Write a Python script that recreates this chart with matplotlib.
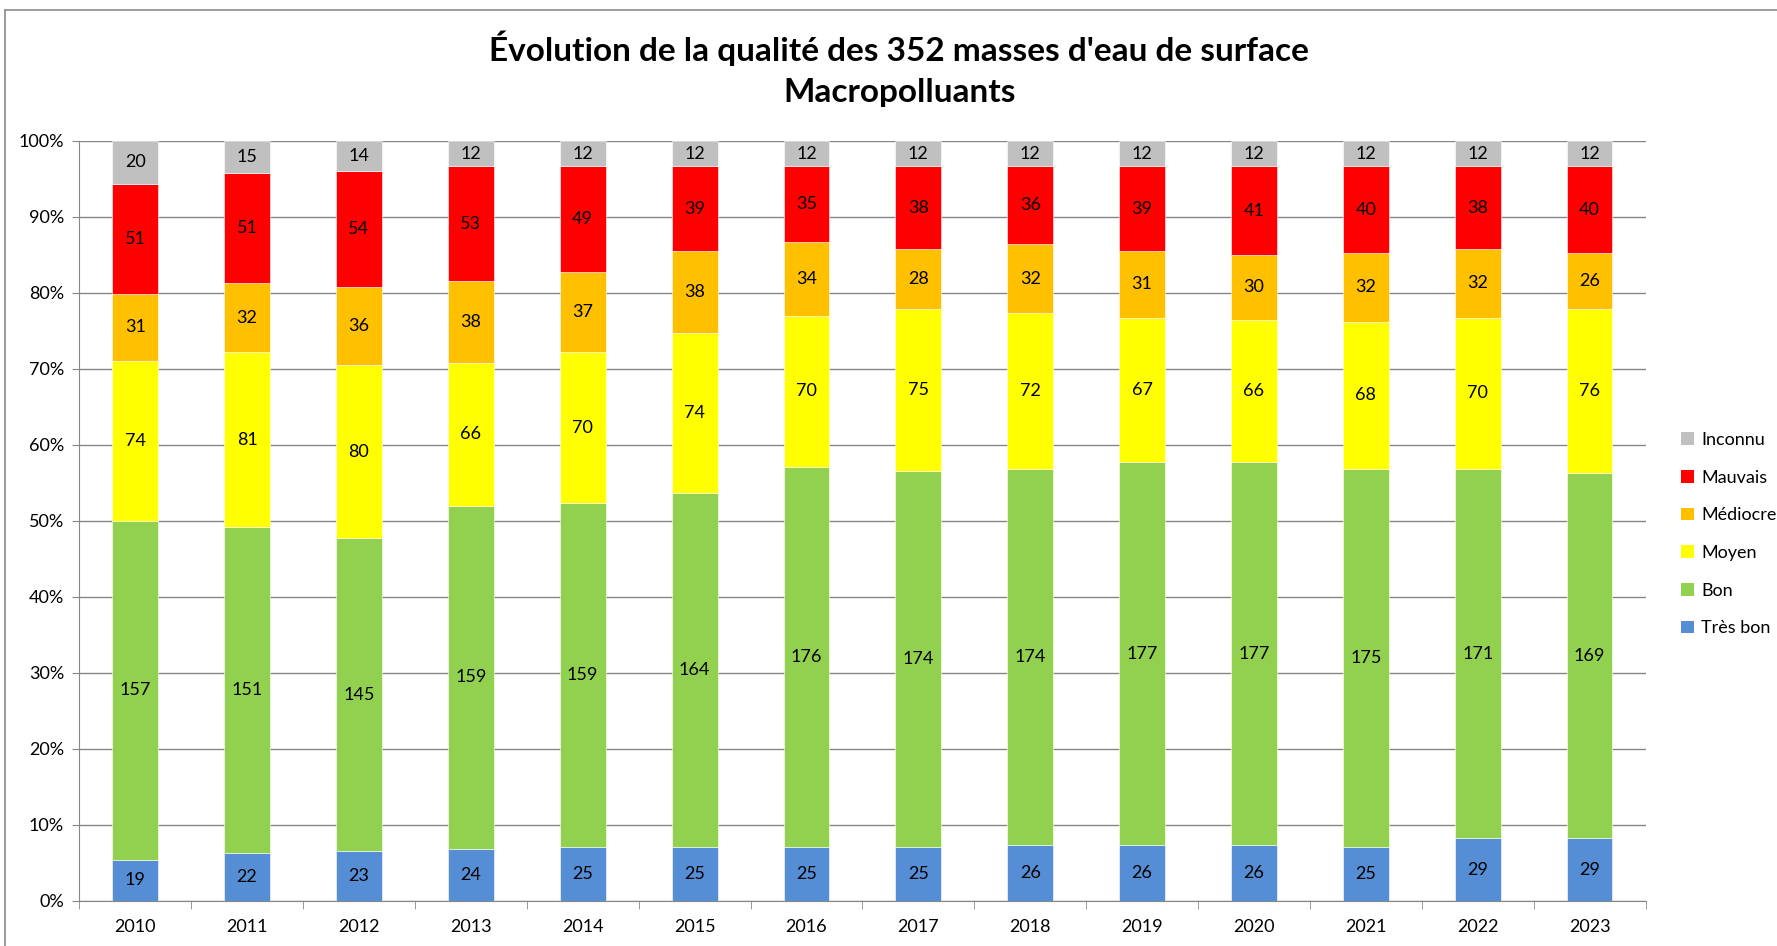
import numpy as np
import matplotlib
matplotlib.use("Agg")
import matplotlib.pyplot as plt
from matplotlib.patches import Patch
from matplotlib.lines import Line2D

plt.rcParams['font.family'] = ['Lato', 'DejaVu Sans']

years = ["2010", "2011", "2012", "2013", "2014", "2015", "2016",
         "2017", "2018", "2019", "2020", "2021", "2022", "2023"]

categories = ["Très bon", "Bon", "Moyen", "Médiocre", "Mauvais", "Inconnu"]
colors = ["#558ED5", "#92D050", "#FFFF00", "#FFC000", "#FF0000", "#C0C0C0"]

tres_bon = [19, 22, 23, 24, 25, 25, 25, 25, 26, 26, 26, 25, 29, 29]
bon = [157, 151, 145, 159, 159, 164, 176, 174, 174, 177, 177, 175, 171, 169]
moyen = [74, 81, 80, 66, 70, 74, 70, 75, 72, 67, 66, 68, 70, 76]
mediocre = [31, 32, 36, 38, 37, 38, 34, 28, 32, 31, 30, 32, 32, 26]
mauvais = [51, 51, 54, 53, 49, 39, 35, 38, 36, 39, 41, 40, 38, 40]
inconnu = [20, 15, 14, 12, 12, 12, 12, 12, 12, 12, 12, 12, 12, 12]

series = [tres_bon, bon, moyen, mediocre, mauvais, inconnu]

fig = plt.figure(figsize=(17.77, 9.46), dpi=100)
ax = fig.add_axes([0.0446, 0.0476, 0.8814, 0.8038])

x = np.arange(len(years))
counts = np.array(series, dtype=float)
totals = counts.sum(axis=0)
shares = counts / totals

bottom = np.zeros(len(years))
for vals, share, col in zip(series, shares, colors):
    ax.bar(x, share, width=0.41, bottom=bottom, color=col,
           edgecolor="white", linewidth=0.4, zorder=3)
    for xi, b, s, v in zip(x, bottom, share, vals):
        ax.text(xi, b + s / 2, str(v), ha="center", va="center",
                fontsize=13, color="black", zorder=4)
    bottom += share

ax.set_xlim(-0.5, len(years) - 0.5)
ax.set_ylim(0, 1)
ticks = np.arange(0, 1.01, 0.1)
ax.set_yticks(ticks)
ax.set_yticklabels([f"{int(round(v * 100))}%" for v in ticks], fontsize=13)
ax.set_xticks(x)
ax.set_xticklabels(years, fontsize=13)
ax.tick_params(axis="x", length=0, pad=13)
ax.tick_params(axis="y", length=5, color="#868686", pad=6)
ax.set_xticks(np.arange(-0.5, len(years)), minor=True)
ax.tick_params(axis="x", which="minor", length=6, color="#868686")

ax.yaxis.grid(True, color="#868686", linewidth=1, zorder=0)
ax.set_axisbelow(True)
for side in ["top", "right"]:
    ax.spines[side].set_visible(False)
for side in ["left", "bottom"]:
    ax.spines[side].set_color("#868686")

fig.text(0.506, 0.9485, "Évolution de la qualité des 352 masses d'eau de surface",
         ha="center", va="center", fontsize=24, fontweight="bold")
fig.text(0.506, 0.9017, "Macropolluants", ha="center", va="center",
         fontsize=24, fontweight="bold")

handles = [Patch(facecolor=c, edgecolor="none") for c in colors[::-1]]
fig.legend(handles, categories[::-1], loc="center left",
           bbox_to_anchor=(0.937, 0.4355), frameon=False, fontsize=13,
           handlelength=0.7, handleheight=0.7, handletextpad=0.4,
           labelspacing=1.2)

# chart frame (top and left edges visible)
fig.add_artist(Line2D([0.003, 1.0], [0.989, 0.989], transform=fig.transFigure,
                      color="#8C8C8C", linewidth=1.2))
fig.add_artist(Line2D([0.003, 0.003], [0.0, 0.989], transform=fig.transFigure,
                      color="#8C8C8C", linewidth=1.2))

fig.savefig("out.png", dpi=100)
